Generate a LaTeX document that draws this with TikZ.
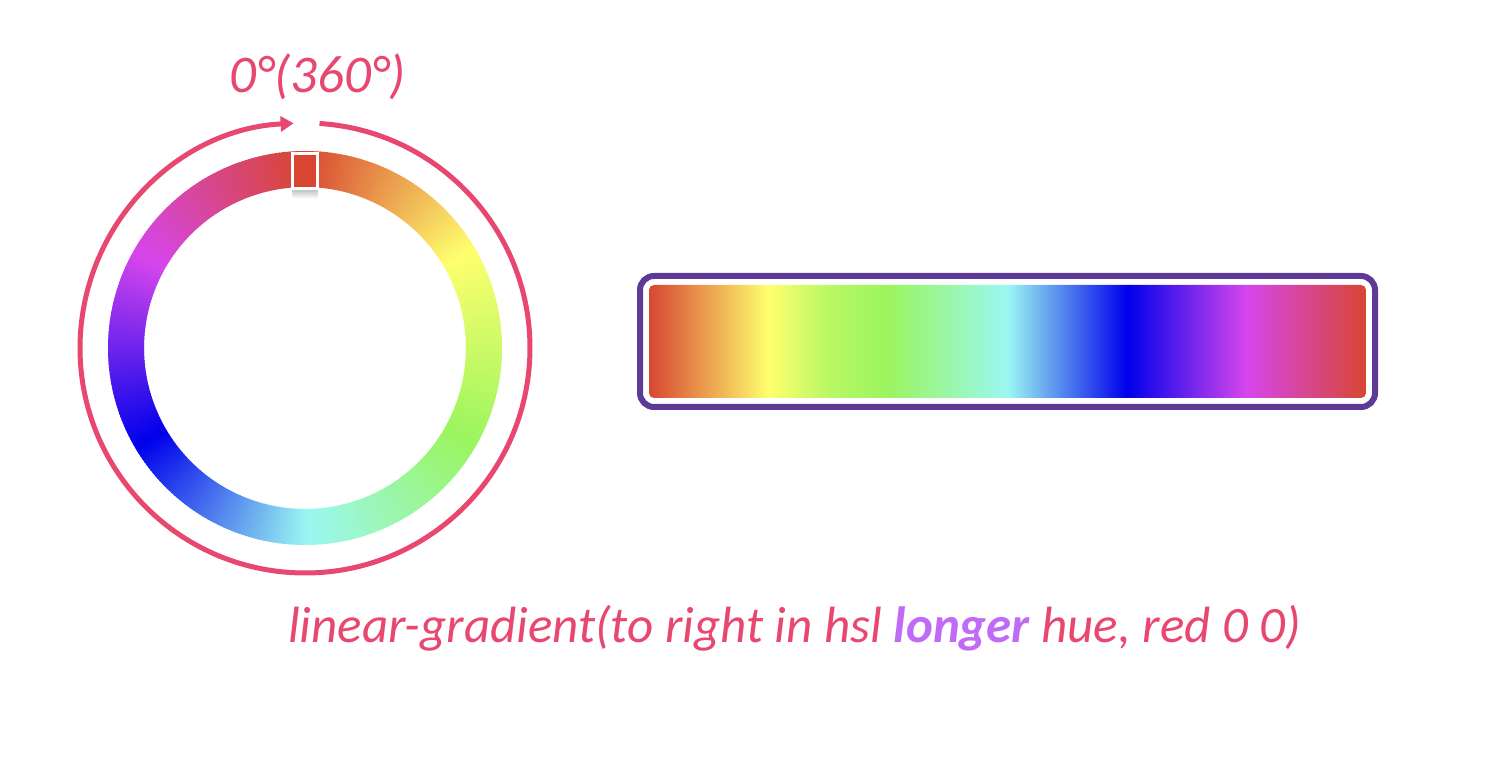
\documentclass[tikz,border=0pt]{standalone}
\usepackage{fontspec}
\setmainfont{Carlito}
\usetikzlibrary{arrows.meta}
\definecolor{pinkc}{HTML}{E8476F}
\definecolor{purpc}{HTML}{5C3A95}
\definecolor{longc}{HTML}{C16AF6}
\definecolor{hue0}{RGB}{216,70,50}
\definecolor{hue1}{RGB}{255,255,110}
\definecolor{hue2}{RGB}{155,245,95}
\definecolor{hue3}{RGB}{155,247,242}
\definecolor{hue4}{RGB}{0,0,235}
\definecolor{hue5}{RGB}{214,70,236}
\definecolor{hue6}{RGB}{216,70,50}
\definecolor{hueg}{RGB}{185,248,100}
\pgfdeclarehorizontalshading{huebar}{100bp}{color(0bp)=(hue0); color(25bp)=(hue0); color(33.333bp)=(hue1); color(37.5bp)=(hueg); color(41.667bp)=(hue2); color(50bp)=(hue3); color(58.333bp)=(hue4); color(66.667bp)=(hue5); color(75bp)=(hue6); color(100bp)=(hue6)}
\tikzset{
  ringline/.style={pinkc, line width=5pt},
  barframe/.style={draw=purpc, line width=6pt, rounded corners=14pt},
  lbl/.style={text=pinkc, inner sep=0pt, anchor=base},
}
\begin{document}
\begin{tikzpicture}[x=1pt,y=1pt]
\useasboundingbox (0,0) rectangle (1500,756);
% hue ring
\begin{scope}[shift={(305,408)}]
\foreach \a in {0,...,359}{
  \pgfmathtruncatemacro\idx{int(\a/60)}
  \pgfmathtruncatemacro\nxt{\idx+1}
  \pgfmathsetmacro\pct{100*(1-(\a+0.5-60*\idx)/60)}
  \colorlet{cur}{hue\idx!\pct!hue\nxt}
  \pgfmathsetmacro\sa{90-\a+0.7}
  \pgfmathsetmacro\ea{90-\a-0.7}
  \fill[cur] (\sa:197) arc[start angle=\sa, end angle=\ea, radius=197]
     -- (\ea:161) arc[start angle=\ea, end angle=\sa, radius=161] -- cycle;
}
% marker shadow
\foreach \k in {1,2,3,4}{
  \fill[black, opacity=0.06, rounded corners=2pt] (-13,158-2*\k) rectangle (13,170);
}
\node[draw=white, line width=3pt, fill=hue0, minimum width=25pt, minimum height=35pt, inner sep=0pt] (mark) at (0,176.5) {};
% outer circle with arrow
\coordinate (ringc) at (0,0);
\draw[ringline, -{Triangle[length=13pt,width=15pt]}] (ringc) ++(86.3:225) arc[start angle=86.3, end angle=-267.1, radius=225];
\end{scope}
% top label
\node[lbl, font=\fontsize{53}{63}\selectfont\itshape] (top) at (317.5,663) {0°(360°)};
% gradient bar
\draw[barframe] (640,349) rectangle (1375,480);
\path[shading=huebar, rounded corners=5pt] (649,358) rectangle (1366,471);
\node[inner sep=0pt] (bar) at (1007.5,414.5) {};
% bottom label
\node[lbl, font=\fontsize{51}{61}\selectfont\itshape] (cap) at (794.5,114) {linear-gradient(to right in hsl \textcolor{longc}{\bfseries longer} hue, red 0 0)};
\end{tikzpicture}
\end{document}
